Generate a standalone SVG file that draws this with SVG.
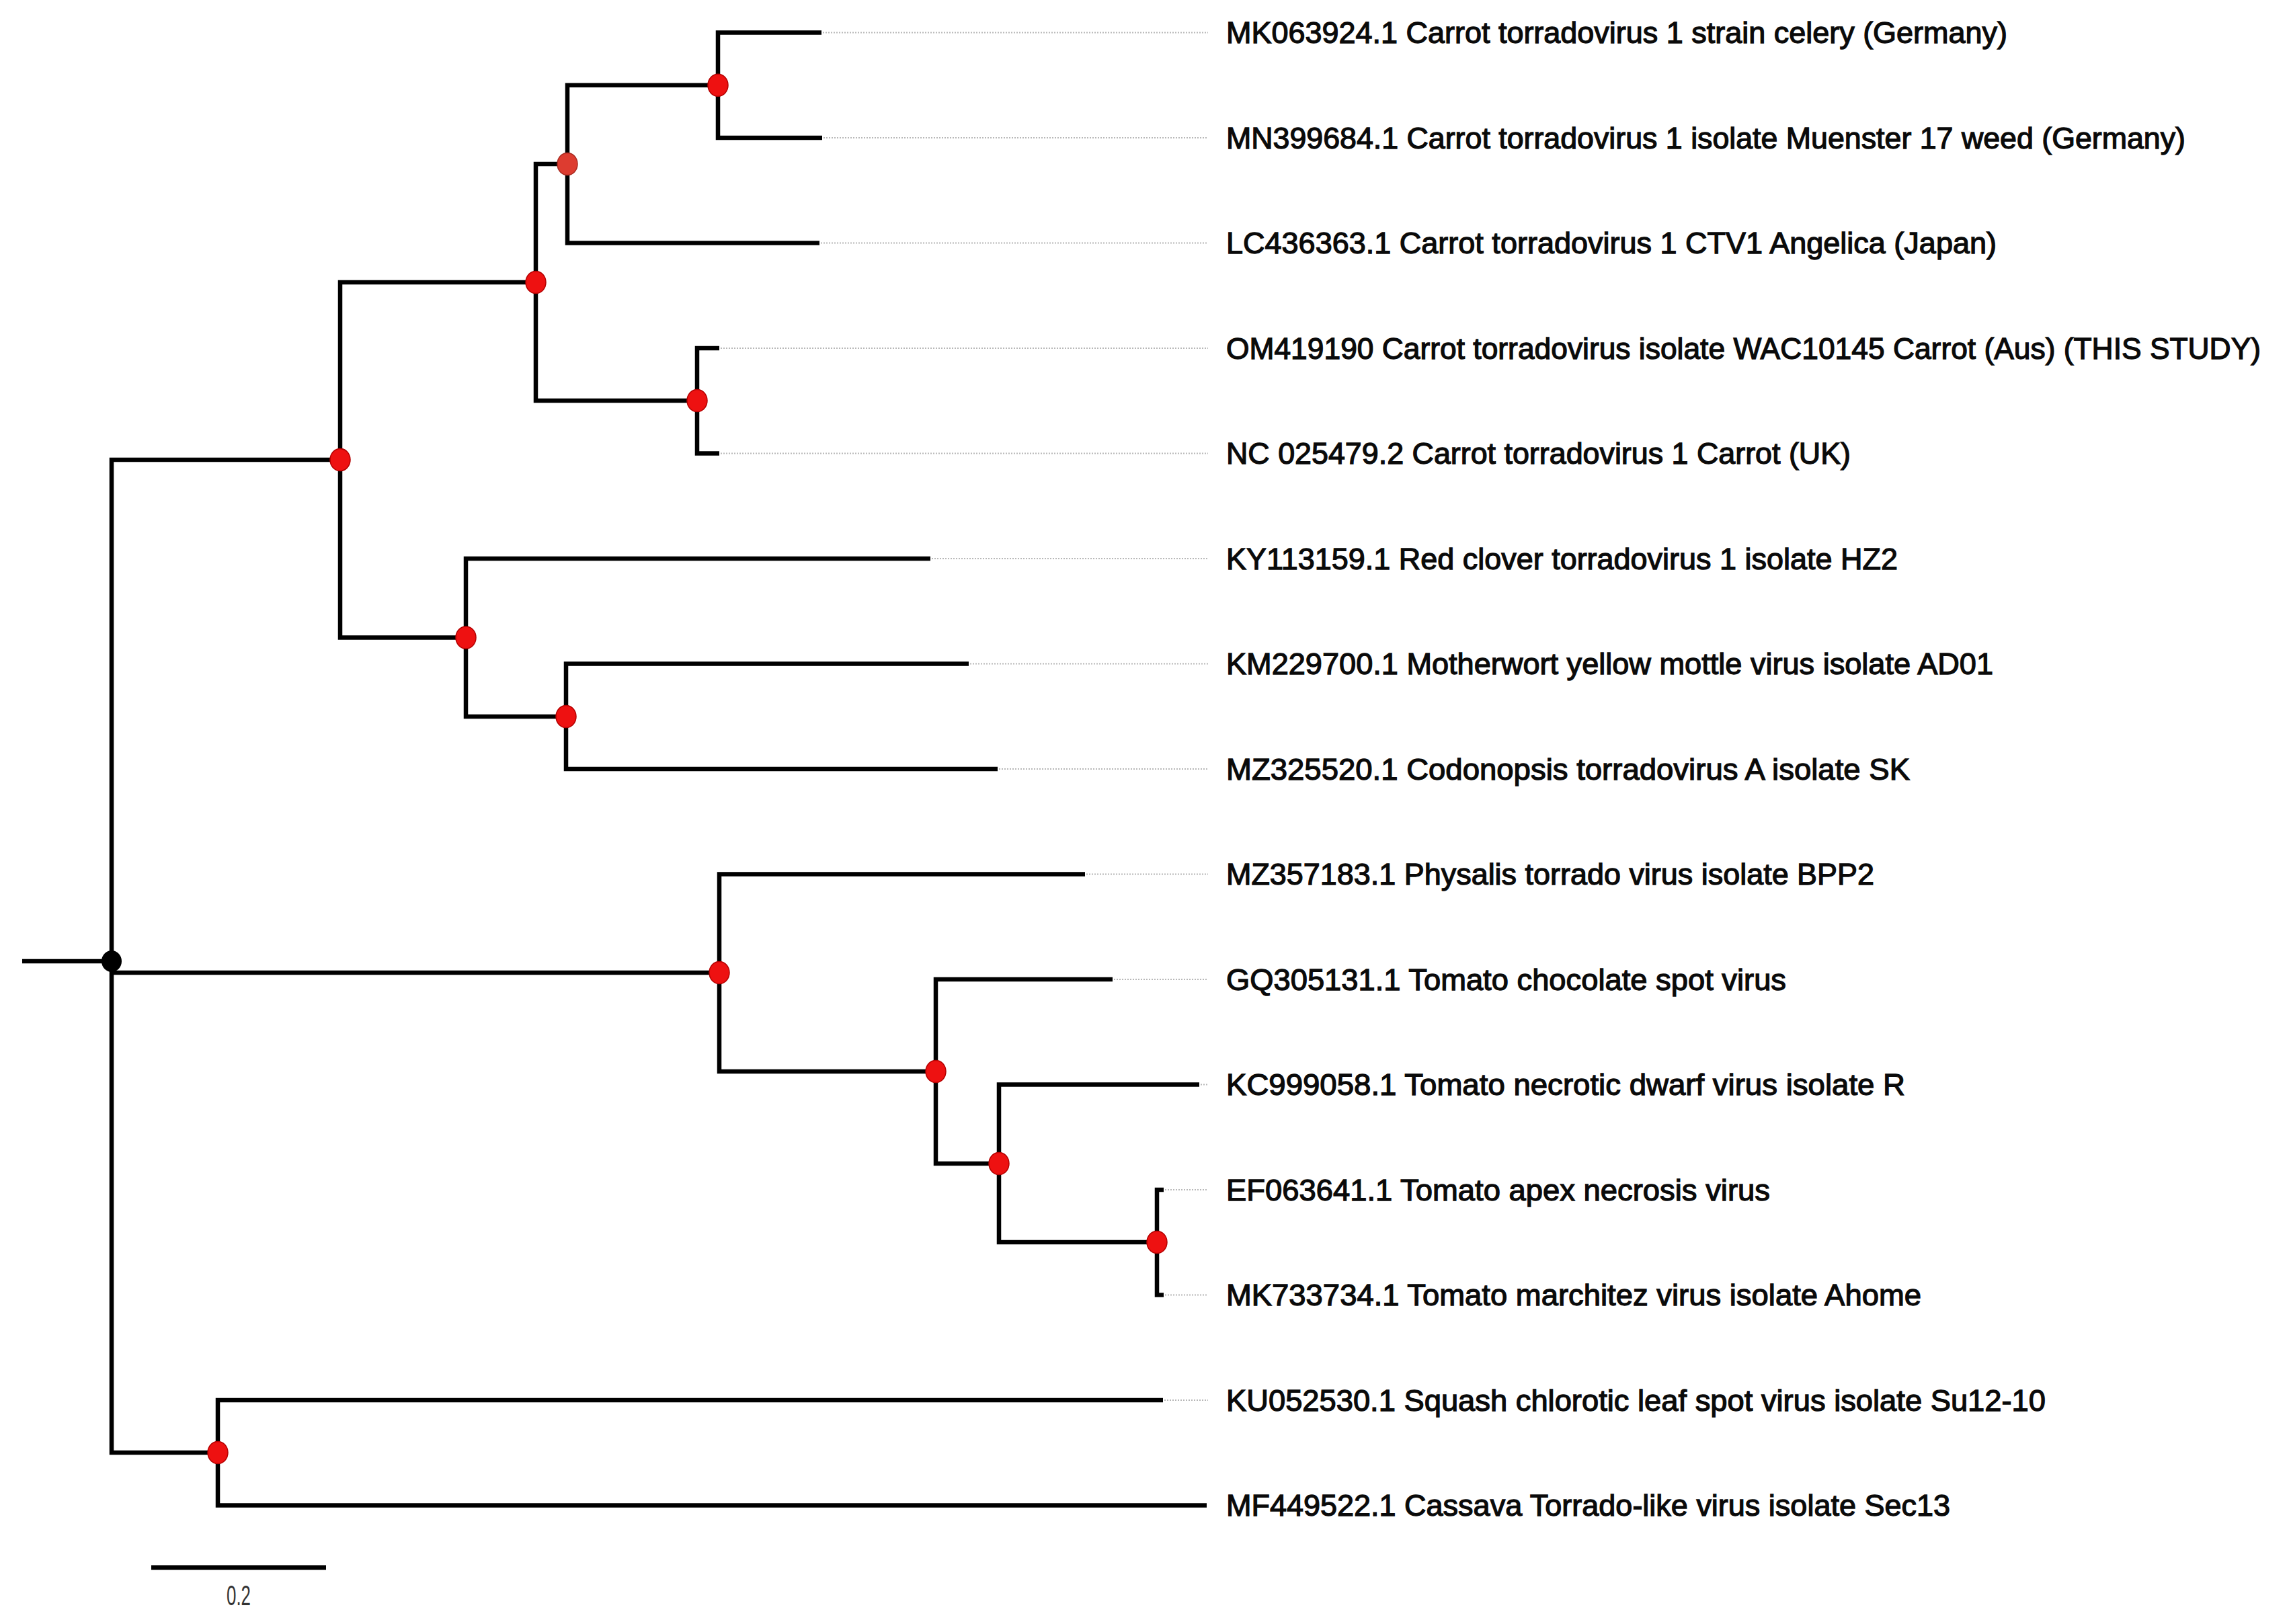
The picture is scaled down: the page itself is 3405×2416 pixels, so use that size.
<svg xmlns="http://www.w3.org/2000/svg" width="3405" height="2416" viewBox="0 0 3405 2416">
<style>
.br{fill:none;stroke:#000;stroke-width:6.5;stroke-linejoin:miter;stroke-linecap:butt}
.ld{fill:none;stroke:#b8b8b8;stroke-width:2;stroke-dasharray:2 2}
.nd{fill:#ee1111;stroke:#b30000;stroke-width:1.5}
.lb{font-family:"Liberation Sans",Arial,sans-serif;font-size:45px;fill:#0a0a0a;stroke:#0a0a0a;stroke-width:1.3}
.sc{font-family:"Liberation Sans",Arial,sans-serif;font-size:42px;fill:#333}
</style>
<rect width="3405" height="2416" fill="#fff"/>
<g id="connectors">
<path class="br" d="M33 1430 H166"/>
<path class="br" d="M506 684 H166 V2161 H324"/>
<path class="br" d="M166 1447 H1070"/>
<path class="br" d="M1222 48.5 H1068 V205 H1223"/>
<path class="br" d="M1068 126.75 H844 V361.5 H1219"/>
<path class="br" d="M844 244 H797 V596 H1037"/>
<path class="br" d="M1070 518 H1037 V674.5 H1070"/>
<path class="br" d="M797 420 H506 V948.5 H693"/>
<path class="br" d="M1384 831 H693 V1066 H842"/>
<path class="br" d="M1441 987.5 H842 V1144 H1484"/>
<path class="br" d="M1614 1300.5 H1070 V1594 H1392"/>
<path class="br" d="M1655 1457 H1392 V1731 H1486"/>
<path class="br" d="M1784 1613.5 H1486 V1848 H1721"/>
<path class="br" d="M1731 1770 H1721 V1926.5 H1731"/>
<path class="br" d="M1730 2083 H324 V2239.5 H1795"/>
<path class="ld" d="M1224 48.5 H1797 M1225 205 H1797 M1221 361.5 H1797 M1072 518 H1797 M1072 674.5 H1797 M1386 831 H1797 M1443 987.5 H1797 M1486 1144 H1797 M1616 1300.5 H1797 M1657 1457 H1797 M1786 1613.5 H1797 M1733 1770 H1797 M1733 1926.5 H1797 M1732 2083 H1797"/>
</g>
<g id="root"><ellipse cx="166" cy="1430" rx="15" ry="16" fill="#000"/></g>
<g id="nodeA"><ellipse class="nd" cx="1068" cy="126.75" rx="15" ry="16.5"/></g>
<g id="nodeB"><ellipse cx="844" cy="244" rx="15" ry="16.5" fill="#dd3c30" stroke="#a82a20" stroke-width="1.5"/></g>
<g id="nodeC"><ellipse class="nd" cx="797" cy="420" rx="15" ry="16.5"/></g>
<g id="nodeD"><ellipse class="nd" cx="1037" cy="596" rx="15" ry="16.5"/></g>
<g id="nodeE"><ellipse class="nd" cx="506" cy="684" rx="15" ry="16.5"/></g>
<g id="nodeF"><ellipse class="nd" cx="693" cy="948.5" rx="15" ry="16.5"/></g>
<g id="nodeG"><ellipse class="nd" cx="842" cy="1066" rx="15" ry="16.5"/></g>
<g id="nodeH"><ellipse class="nd" cx="1070" cy="1447" rx="15" ry="16.5"/></g>
<g id="nodeI"><ellipse class="nd" cx="1392" cy="1594" rx="15" ry="16.5"/></g>
<g id="nodeJ"><ellipse class="nd" cx="1486" cy="1731" rx="15" ry="16.5"/></g>
<g id="nodeK"><ellipse class="nd" cx="1721" cy="1848" rx="15" ry="16.5"/></g>
<g id="nodeL"><ellipse class="nd" cx="324" cy="2161" rx="15" ry="16.5"/></g>
<g id="tip01"><text class="lb" x="1824" y="64" textLength="1162" lengthAdjust="spacingAndGlyphs">MK063924.1 Carrot torradovirus 1 strain celery (Germany)</text></g>
<g id="tip02"><text class="lb" x="1824" y="220.5" textLength="1427" lengthAdjust="spacingAndGlyphs">MN399684.1 Carrot torradovirus 1 isolate Muenster 17 weed (Germany)</text></g>
<g id="tip03"><text class="lb" x="1824" y="377" textLength="1146" lengthAdjust="spacingAndGlyphs">LC436363.1 Carrot torradovirus 1 CTV1 Angelica (Japan)</text></g>
<g id="tip04"><text class="lb" x="1824" y="533.5" textLength="1539" lengthAdjust="spacingAndGlyphs">OM419190 Carrot torradovirus isolate WAC10145 Carrot (Aus) (THIS STUDY)</text></g>
<g id="tip05"><text class="lb" x="1824" y="690" textLength="929" lengthAdjust="spacingAndGlyphs">NC 025479.2 Carrot torradovirus 1 Carrot (UK)</text></g>
<g id="tip06"><text class="lb" x="1824" y="846.5" textLength="999" lengthAdjust="spacingAndGlyphs">KY113159.1 Red clover torradovirus 1 isolate HZ2</text></g>
<g id="tip07"><text class="lb" x="1824" y="1003" textLength="1141" lengthAdjust="spacingAndGlyphs">KM229700.1 Motherwort yellow mottle virus isolate AD01</text></g>
<g id="tip08"><text class="lb" x="1824" y="1159.5" textLength="1017" lengthAdjust="spacingAndGlyphs">MZ325520.1 Codonopsis torradovirus A isolate SK</text></g>
<g id="tip09"><text class="lb" x="1824" y="1316" textLength="964" lengthAdjust="spacingAndGlyphs">MZ357183.1 Physalis torrado virus isolate BPP2</text></g>
<g id="tip10"><text class="lb" x="1824" y="1472.5" textLength="833" lengthAdjust="spacingAndGlyphs">GQ305131.1 Tomato chocolate spot virus</text></g>
<g id="tip11"><text class="lb" x="1824" y="1629" textLength="1010" lengthAdjust="spacingAndGlyphs">KC999058.1 Tomato necrotic dwarf virus isolate R</text></g>
<g id="tip12"><text class="lb" x="1824" y="1785.5" textLength="809" lengthAdjust="spacingAndGlyphs">EF063641.1 Tomato apex necrosis virus</text></g>
<g id="tip13"><text class="lb" x="1824" y="1942" textLength="1034" lengthAdjust="spacingAndGlyphs">MK733734.1 Tomato marchitez virus isolate Ahome</text></g>
<g id="tip14"><text class="lb" x="1824" y="2098.5" textLength="1219" lengthAdjust="spacingAndGlyphs">KU052530.1 Squash chlorotic leaf spot virus isolate Su12-10</text></g>
<g id="tip15"><text class="lb" x="1824" y="2255" textLength="1077" lengthAdjust="spacingAndGlyphs">MF449522.1 Cassava Torrado-like virus isolate Sec13</text></g>
<g id="scalebar">
<path d="M225 2332 H485" stroke="#000" stroke-width="7" fill="none"/>
<text class="sc" x="337" y="2388" textLength="36" lengthAdjust="spacingAndGlyphs">0.2</text>
</g>
</svg>
